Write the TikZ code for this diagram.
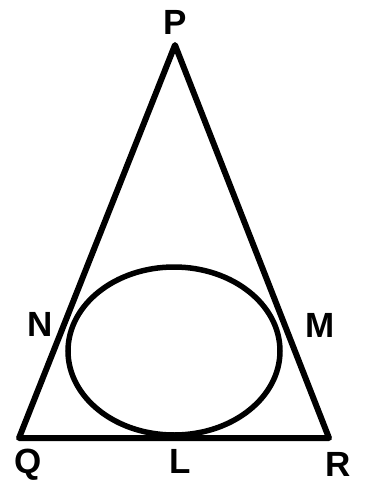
\documentclass[tikz,border=0pt]{standalone}
\usepackage{fontspec}
\setmainfont{Liberation Sans}
\begin{document}
\begin{tikzpicture}[x=1pt,y=-1pt,
  lbl/.style={font=\fontsize{35}{35}\selectfont\bfseries, inner sep=0pt, anchor=center},
  edge/.style={line width=6pt, line join=round, line cap=round}]
\useasboundingbox (0,0) rectangle (366,483);
\coordinate (p) at (175,45);
\coordinate (q) at (19,438);
\coordinate (r) at (329,438);
\draw[edge] (p) -- (q) -- (r) -- cycle;
\draw[line width=5.5pt] (174,351) ellipse [x radius=106, y radius=84];
\node[lbl] (P) at (175,22) {P};
\node[lbl] (N) at (40,324) {N};
\node[lbl] (M) at (320,325) {M};
\node[lbl] (Q) at (28,465) {Q};
\node[lbl] (L) at (180,461) {L};
\node[lbl] (R) at (338,464) {R};
\end{tikzpicture}
\end{document}
